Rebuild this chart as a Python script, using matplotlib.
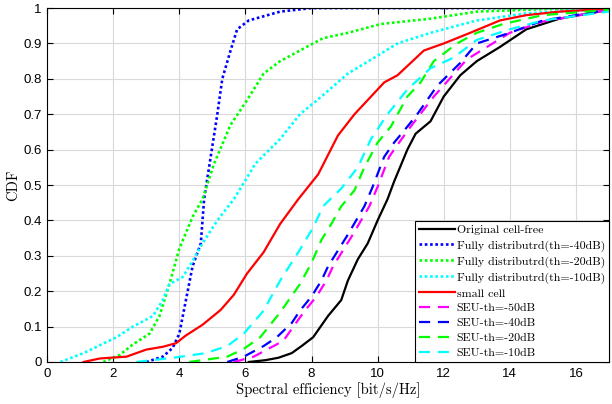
import matplotlib
matplotlib.use("Agg")
import matplotlib.pyplot as plt
from matplotlib.ticker import FuncFormatter, MultipleLocator

plt.rcParams['axes.unicode_minus'] = False

# ---- data (x: spectral efficiency, y: CDF) ----
orig_x = [6.1, 6.6, 7.0, 7.4, 7.7, 8.05, 8.5, 8.9, 9.1, 9.4, 9.7, 10.0, 10.3, 10.5, 10.9, 11.15, 11.6, 12.0, 12.5, 13.0, 13.7, 14.5, 15.5, 17.0]
orig_y = [0.0, 0.005, 0.012, 0.025, 0.045, 0.07, 0.13, 0.175, 0.23, 0.29, 0.335, 0.40, 0.46, 0.51, 0.60, 0.645, 0.68, 0.75, 0.81, 0.85, 0.89, 0.94, 0.97, 0.995]

fd40_x = [3.0, 3.5, 3.8, 4.0, 4.2, 4.4, 4.65, 4.75, 4.95, 5.15, 5.3, 5.55, 5.75, 6.1, 7.05, 8.0, 17.0]
fd40_y = [0.0, 0.015, 0.04, 0.08, 0.175, 0.27, 0.335, 0.46, 0.58, 0.70, 0.80, 0.88, 0.94, 0.965, 0.99, 1.0, 1.0]

fd20_x = [1.7, 2.2, 2.6, 3.1, 3.4, 3.7, 4.0, 4.4, 4.7, 5.05, 5.55, 6.05, 6.55, 7.05, 7.65, 8.35, 9.1, 10.1, 11.6, 13.0, 15.0, 17.0]
fd20_y = [0.0, 0.02, 0.05, 0.08, 0.13, 0.22, 0.32, 0.41, 0.46, 0.56, 0.67, 0.74, 0.815, 0.85, 0.88, 0.915, 0.93, 0.955, 0.97, 0.99, 0.997, 1.0]

fd10_x = [0.4, 1.1, 2.1, 2.6, 3.2, 3.5, 3.7, 4.1, 4.4, 4.7, 5.15, 5.65, 6.3, 7.05, 7.65, 8.3, 9.1, 9.9, 10.6, 11.6, 12.0, 13.0, 14.5, 17.0]
fd10_y = [0.0, 0.025, 0.07, 0.10, 0.13, 0.175, 0.22, 0.24, 0.285, 0.335, 0.40, 0.46, 0.56, 0.63, 0.70, 0.75, 0.815, 0.86, 0.90, 0.93, 0.94, 0.965, 0.985, 0.998]

small_x = [1.1, 1.6, 2.4, 3.0, 3.5, 3.9, 4.2, 4.7, 5.25, 5.65, 6.05, 6.55, 7.05, 7.6, 8.2, 8.8, 9.3, 9.7, 10.2, 10.6, 11.0, 11.4, 12.0, 12.8, 13.7, 14.5, 15.5, 17.0]
small_y = [0.0, 0.01, 0.015, 0.035, 0.043, 0.053, 0.075, 0.105, 0.147, 0.19, 0.25, 0.31, 0.39, 0.46, 0.53, 0.64, 0.70, 0.74, 0.79, 0.81, 0.845, 0.88, 0.90, 0.93, 0.965, 0.98, 0.99, 0.998]

seu50_x = [5.65, 6.25, 6.75, 7.15, 7.45, 7.8, 8.15, 8.45, 8.65, 8.95, 9.25, 9.5, 9.75, 10.0, 10.35, 10.65, 11.0, 11.7, 12.7, 14.0, 15.0, 17.0]
seu50_y = [0.0, 0.015, 0.04, 0.06, 0.10, 0.145, 0.185, 0.23, 0.27, 0.315, 0.36, 0.40, 0.44, 0.495, 0.58, 0.62, 0.665, 0.75, 0.855, 0.93, 0.962, 0.995]

seu40_x = [5.45, 5.95, 6.55, 6.95, 7.4, 7.65, 8.0, 8.3, 8.5, 8.8, 9.1, 9.35, 9.6, 9.85, 10.2, 10.5, 10.9, 11.2, 11.5, 11.8, 12.5, 13.0, 14.0, 15.0, 17.0]
seu40_y = [0.0, 0.015, 0.045, 0.07, 0.11, 0.145, 0.185, 0.23, 0.27, 0.315, 0.36, 0.40, 0.44, 0.495, 0.58, 0.62, 0.665, 0.70, 0.74, 0.78, 0.845, 0.90, 0.93, 0.965, 0.995]

seu20_x = [4.3, 5.45, 5.95, 6.45, 7.05, 7.65, 8.0, 8.3, 8.6, 8.9, 9.3, 9.6, 10.0, 10.4, 10.9, 11.3, 11.7, 12.4, 13.0, 13.8, 15.0, 17.0]
seu20_y = [0.0, 0.015, 0.037, 0.07, 0.14, 0.22, 0.28, 0.345, 0.39, 0.44, 0.485, 0.55, 0.62, 0.665, 0.75, 0.79, 0.85, 0.90, 0.93, 0.955, 0.98, 0.995]

seu10_x = [2.7, 3.9, 4.8, 5.45, 5.95, 6.55, 7.05, 7.6, 8.05, 8.35, 8.9, 9.4, 9.8, 10.3, 10.9, 11.6, 12.3, 13.0, 14.0, 15.0, 17.0]
seu10_y = [0.0, 0.013, 0.025, 0.045, 0.08, 0.145, 0.23, 0.31, 0.38, 0.44, 0.49, 0.55, 0.63, 0.70, 0.77, 0.83, 0.86, 0.91, 0.94, 0.965, 0.99]

labels = ["Original cell-free", "Fully distributrd(th=-40dB)", "Fully distributrd(th=-20dB)",
          "Fully distributrd(th=-10dB)", "small cell", "SEU-th=-50dB", "SEU-th=-40dB",
          "SEU-th=-20dB", "SEU-th=-10dB"]

fig = plt.figure(figsize=(6.12, 4.04), dpi=100)
ax = fig.add_axes([0.077, 0.104, 0.918, 0.876])

lw = 1.6
dots = (0, (1, 1))
dash = (0, (5, 3.5))
ax.plot(orig_x, orig_y, color='black', lw=lw, ls='-', label=labels[0])
ax.plot(fd40_x, fd40_y, color='#0000ff', lw=lw + 0.3, ls=dots, label=labels[1])
ax.plot(fd20_x, fd20_y, color='#00ff00', lw=lw + 0.3, ls=dots, label=labels[2])
ax.plot(fd10_x, fd10_y, color='#00ffff', lw=lw + 0.3, ls=dots, label=labels[3])
ax.plot(small_x, small_y, color='#ff0000', lw=lw, ls='-', label=labels[4])
ax.plot(seu50_x, seu50_y, color='#ff00ff', lw=lw, ls=dash, label=labels[5])
ax.plot(seu40_x, seu40_y, color='#0000ff', lw=lw, ls=dash, label=labels[6])
ax.plot(seu20_x, seu20_y, color='#00ff00', lw=lw, ls=dash, label=labels[7])
ax.plot(seu10_x, seu10_y, color='#00ffff', lw=lw, ls=dash, label=labels[8])

ax.set_xlim(0, 17)
ax.set_ylim(0, 1)
ax.xaxis.set_major_locator(MultipleLocator(2))
ax.yaxis.set_major_locator(MultipleLocator(0.1))
ax.yaxis.set_major_formatter(FuncFormatter(lambda v, p: ('%g' % round(v, 2))))
ax.grid(True, color='#d9d9d9', lw=0.8)
ax.set_axisbelow(True)
ax.tick_params(direction='in', top=True, right=True, length=4, width=0.8, labelsize=9.5, pad=4)
for lab in ax.get_xticklabels() + ax.get_yticklabels():
    lab.set_family('Liberation Sans')
for s in ax.spines.values():
    s.set_linewidth(0.8)

ax.set_xlabel("Spectral efficiency [bit/s/Hz]", family='cmr10', fontsize=10.5, labelpad=2)
ax.set_ylabel("CDF", family='cmr10', fontsize=10.5, labelpad=2)

leg = ax.legend(loc='lower right', bbox_to_anchor=(1, 0), borderaxespad=0, frameon=True,
                fancybox=False, edgecolor='black', framealpha=1,
                prop={'family': 'cmr10', 'size': 8.6}, handlelength=3.0,
                handletextpad=0.15, labelspacing=0.38, borderpad=0.32)
leg.get_frame().set_linewidth(0.8)

fig.savefig("out.png", dpi=100)
